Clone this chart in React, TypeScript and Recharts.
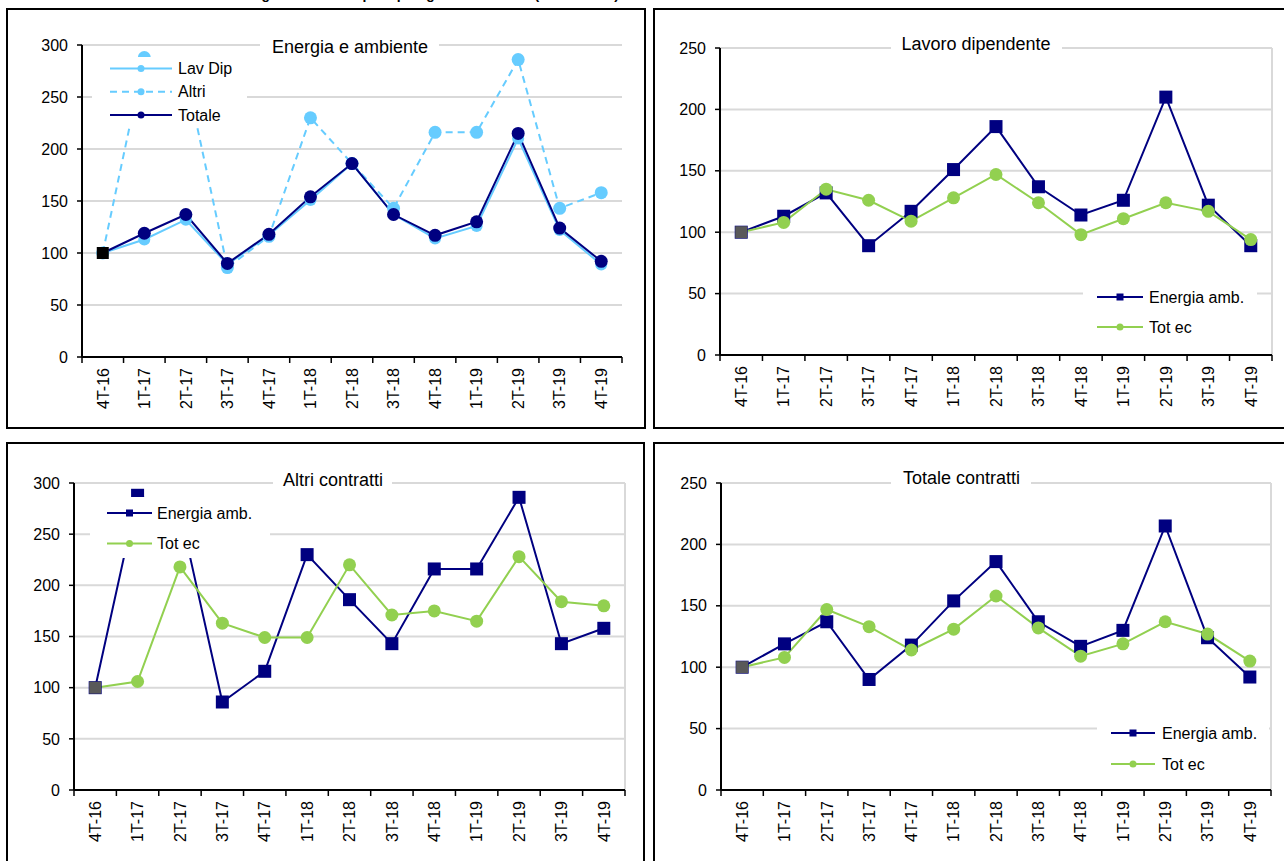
import React from "react";
import { LineChart, Line, XAxis, YAxis, CartesianGrid } from "recharts";

const FONT = '"Liberation Sans", Arial, sans-serif';
const NAVY = "#000080";
const SKY = "#66CCFF";
const GREEN = "#92D050";
const GREY = "#595959";
const GRID = "#D9D9D9";

// quarters (4T-16 = 100)
const quarters = ["4T-16", "1T-17", "2T-17", "3T-17", "4T-17", "1T-18", "2T-18", "3T-18", "4T-18", "1T-19", "2T-19", "3T-19", "4T-19"];

// settore energia e ambiente
const energiaLavDip = [100, 113, 132, 89, 117, 151, 186, 137, 114, 126, 210, 122, 89];
const energiaAltri = [100, 288, 272, 86, 116, 230, 186, 143, 216, 216, 286, 143, 158];
const energiaTotale = [100, 119, 137, 90, 118, 154, 186, 137, 117, 130, 215, 124, 92];

// totale economia
const totEcLavDip = [100, 108, 135, 126, 109, 128, 147, 124, 98, 111, 124, 117, 94];
const totEcAltri = [100, 106, 218, 163, 149, 149, 220, 171, 175, 165, 228, 184, 180];
const totEcTotale = [100, 108, 147, 133, 114, 131, 158, 132, 109, 119, 137, 127, 105];

const ticks300 = [0, 50, 100, 150, 200, 250, 300];
const ticks250 = [0, 50, 100, 150, 200, 250];

type Series = { key: string; name: string; color: string; dashed?: boolean; shape: "circle" | "square"; size: number; first?: string };

const rowsEnergia = quarters.map((q, i) => ({ q, lavDip: energiaLavDip[i], altri: energiaAltri[i], totale: energiaTotale[i] }));
const rowsLavDip = quarters.map((q, i) => ({ q, en: energiaLavDip[i], ec: totEcLavDip[i] }));
const rowsAltri = quarters.map((q, i) => ({ q, en: energiaAltri[i], ec: totEcAltri[i] }));
const rowsTotale = quarters.map((q, i) => ({ q, en: energiaTotale[i], ec: totEcTotale[i] }));

const seriesEnergia: Series[] = [
  { key: "lavDip", name: "Lav Dip", color: SKY, shape: "circle", size: 6 },
  { key: "altri", name: "Altri", color: SKY, dashed: true, shape: "circle", size: 6.5 },
  { key: "totale", name: "Totale", color: NAVY, shape: "circle", size: 6.5, first: "#000" },
];
const seriesConfronto: Series[] = [
  { key: "en", name: "Energia amb.", color: NAVY, shape: "square", size: 13 },
  { key: "ec", name: "Tot ec", color: GREEN, shape: "circle", size: 6.5, first: GREY },
];

function QuarterTick(props: any) {
  const { x, y, payload, index, hb, count } = props;
  return (
    <g>
      <line x1={x - hb} x2={x - hb} y1={y} y2={y + 6} stroke="#000" strokeWidth={1.5} />
      {index === count - 1 && <line x1={x + hb} x2={x + hb} y1={y} y2={y + 6} stroke="#000" strokeWidth={1.5} />}
      <text transform={`translate(${x},${y + 11}) rotate(-90)`} textAnchor="end" dy="0.36em" fontSize={16} fontFamily={FONT} fill="#000">
        {payload.value}
      </text>
    </g>
  );
}

const makeDot = (s: Series) => (props: any) => {
  const { cx, cy, index } = props;
  if (cx == null || cy == null) return <g key={`${s.key}-${index}`} />;
  const isFirst = index === 0 && !!s.first;
  if (isFirst || s.shape === "square") {
    const size = isFirst ? (s.shape === "square" ? s.size : 12) : s.size;
    return <rect key={`${s.key}-${index}`} x={cx - size / 2} y={cy - size / 2} width={size} height={size} fill={isFirst ? s.first : s.color} />;
  }
  return <circle key={`${s.key}-${index}`} cx={cx} cy={cy} r={s.size} fill={s.color} />;
};

type PanelProps = {
  box: { x: number; y: number; w: number; h: number };
  plot: { left: number; top: number; right: number; bottom: number };
  yTicks: number[];
  rows: any[];
  series: Series[];
  title: { text: string; x1: number; x2: number; cx: number; base: number };
  legend: { x: number; y: number; w: number; h: number; firstY: number; gap: number; x1: number; x2: number; textX: number; mark: number };
  rightLine: boolean;
};

function Panel({ box, plot, yTicks, rows, series, title, legend, rightLine }: PanelProps) {
  const hb = (plot.right - plot.left) / (rows.length * 2);
  const yMax = yTicks[yTicks.length - 1];
  const tw = title.x2 - title.x1;
  return (
    <>
      <div style={{ position: "absolute", left: box.x, top: box.y, width: box.w, height: box.h, border: "2px solid #000", boxSizing: "border-box" }} />
      <div style={{ position: "absolute", left: box.x, top: box.y }}>
        <LineChart
          width={box.w}
          height={box.h}
          data={rows}
          margin={{ top: plot.top - box.y, right: box.x + box.w - plot.right, left: 0, bottom: 0 }}
        >
          <CartesianGrid
            stroke={GRID}
            strokeWidth={2}
            vertical={rightLine}
            verticalCoordinatesGenerator={({ offset }: any) => [offset.left + offset.width]}
          />
          <XAxis
            dataKey="q"
            scale="point"
            padding={{ left: hb, right: hb }}
            interval={0}
            tickLine={false}
            tickSize={0}
            tickMargin={0}
            height={box.y + box.h - plot.bottom}
            axisLine={{ stroke: "#000", strokeWidth: 2 }}
            tick={(p: any) => <QuarterTick {...p} hb={hb} count={rows.length} />}
          />
          <YAxis
            width={plot.left - box.x}
            domain={[0, yMax]}
            ticks={yTicks}
            interval={0}
            tickSize={5}
            tickMargin={9}
            axisLine={{ stroke: "#000", strokeWidth: 2 }}
            tickLine={{ stroke: "#000", strokeWidth: 1.5 }}
            tick={{ fill: "#000", fontSize: 16, fontFamily: FONT }}
          />
          {series.map((s) => (
            <Line
              key={s.key}
              type="linear"
              dataKey={s.key}
              name={s.name}
              stroke={s.color}
              strokeWidth={2}
              strokeDasharray={s.dashed ? "7 5" : undefined}
              dot={makeDot(s)}
              activeDot={false}
              isAnimationActive={false}
            />
          ))}
        </LineChart>
      </div>
      <svg style={{ position: "absolute", left: title.x1, top: title.base - 19 }} width={tw} height={25}>
        <rect width={tw} height={25} fill="#fff" />
        <text x={title.cx - title.x1} y={19} textAnchor="middle" fontSize={18} fontFamily={FONT} fill="#000">
          {title.text}
        </text>
      </svg>
      <svg style={{ position: "absolute", left: legend.x, top: legend.y }} width={legend.w} height={legend.h}>
        <rect width={legend.w} height={legend.h} fill="#fff" />
        {series.map((s, i) => {
          const cy = legend.firstY - legend.y + i * legend.gap;
          const mx = (legend.x1 + legend.x2) / 2 - legend.x;
          const m = legend.mark;
          return (
            <g key={s.key}>
              <line x1={legend.x1 - legend.x} x2={legend.x2 - legend.x} y1={cy} y2={cy} stroke={s.color} strokeWidth={2} strokeDasharray={s.dashed ? "7 5" : undefined} />
              {s.shape === "square" ? (
                <rect x={mx - m} y={cy - m} width={m * 2} height={m * 2} fill={s.color} />
              ) : (
                <circle cx={mx} cy={cy} r={m} fill={s.color} />
              )}
              <text x={legend.textX - legend.x} y={cy} dy="0.35em" fontSize={16} fontFamily={FONT} fill="#000">
                {s.name}
              </text>
            </g>
          );
        })}
      </svg>
    </>
  );
}

export default function App() {
  return (
    <div style={{ position: "absolute", left: 0, top: 0, width: 1284, height: 861, overflow: "hidden", background: "#fff", fontFamily: FONT }}>
      <div style={{ position: "absolute", left: 6, top: -14, fontSize: 14, lineHeight: "17px", fontWeight: "bold", whiteSpace: "nowrap", color: "#000" }}>
        Grafico 4 - Assunzioni nel settore energia e ambiente per tipologia contrattuale (4T-16 = 100)
      </div>
      <Panel
        box={{ x: 6, y: 8, w: 640, h: 421 }}
        plot={{ left: 82, top: 45, right: 622, bottom: 357 }}
        yTicks={ticks300}
        rows={rowsEnergia}
        series={seriesEnergia}
        title={{ text: "Energia e ambiente", x1: 260, x2: 439, cx: 350, base: 53 }}
        legend={{ x: 92, y: 57, w: 155, h: 69, firstY: 68.5, gap: 23.3, x1: 110, x2: 172, textX: 178, mark: 3.5 }}
        rightLine={false}
      />
      <Panel
        box={{ x: 653, y: 8, w: 640, h: 421 }}
        plot={{ left: 720, top: 48, right: 1272, bottom: 355 }}
        yTicks={ticks250}
        rows={rowsLavDip}
        series={seriesConfronto}
        title={{ text: "Lavoro dipendente", x1: 891, x2: 1062, cx: 976, base: 49.5 }}
        legend={{ x: 1083, y: 283, w: 174, h: 58, firstY: 297, gap: 30, x1: 1097, x2: 1143, textX: 1149, mark: 3.5 }}
        rightLine={true}
      />
      <Panel
        box={{ x: 6, y: 442, w: 639, h: 440 }}
        plot={{ left: 74, top: 483, right: 625, bottom: 790 }}
        yTicks={ticks300}
        rows={rowsAltri}
        series={seriesConfronto}
        title={{ text: "Altri contratti", x1: 273, x2: 392, cx: 333, base: 486 }}
        legend={{ x: 90, y: 497, w: 180, h: 61, firstY: 513, gap: 30.5, x1: 107, x2: 152, textX: 157, mark: 3.5 }}
        rightLine={true}
      />
      <Panel
        box={{ x: 653, y: 442, w: 640, h: 440 }}
        plot={{ left: 721, top: 483, right: 1271, bottom: 790 }}
        yTicks={ticks250}
        rows={rowsTotale}
        series={seriesConfronto}
        title={{ text: "Totale contratti", x1: 891, x2: 1031, cx: 961.5, base: 484 }}
        legend={{ x: 1097, y: 718, w: 172, h: 62, firstY: 733, gap: 31, x1: 1111, x2: 1155, textX: 1162, mark: 3.5 }}
        rightLine={true}
      />
    </div>
  );
}
